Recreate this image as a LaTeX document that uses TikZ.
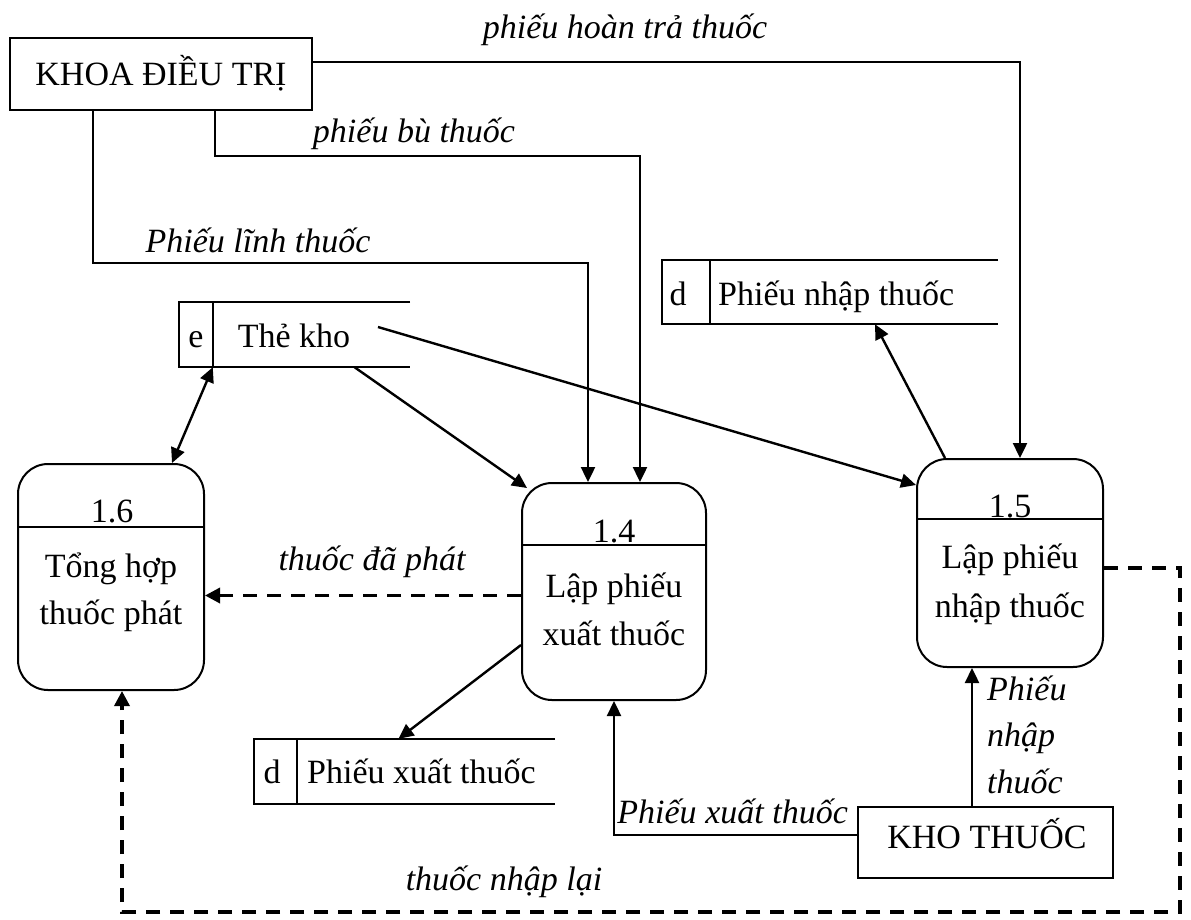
\documentclass[tikz,border=0pt]{standalone}
\usepackage{fontspec}
\setmainfont{Liberation Serif}
\usetikzlibrary{arrows.meta,calc}

\begin{document}
\begin{tikzpicture}[x=1pt,y=-1pt,
  every node/.style={font=\fontsize{34}{40}\selectfont, inner sep=0pt},
  tip/.style={-{Triangle[length=15pt,width=14pt]}},
  flow/.style={line width=2.4pt, tip},
  twoway/.style={line width=2.4pt, {Triangle[length=15pt,width=14pt]}-{Triangle[length=15pt,width=14pt]}},
  dashflow/.style={line width=3.4pt, dash pattern=on 14pt off 10pt, -{Triangle[length=15pt,width=15pt]}},
  edge/.style={line width=2pt},
  entity/.style={draw, edge, minimum width=#1, minimum height=72pt},
  proc/.style={draw, edge, rounded corners=30pt, minimum width=186pt},
  storebox/.style={minimum height=65pt},
  lbl/.style={font=\fontsize{34}{40}\selectfont\itshape, anchor=base},
  txt/.style={anchor=base}
]
\useasboundingbox (0,0) rectangle (1191,919);

% external entities
\node[entity=302pt] (kdt) at (161,74) {};
\node[txt] at (161,85) {KHOA ĐIỀU TRỊ};
\node[entity=255pt, minimum height=71pt] (kt) at (985.5,842.5) {};
\node[txt] at (987,848) {KHO THUỐC};

% processes
\node[proc, minimum height=226pt] (p16) at (111,577) {};
\draw[edge] ([yshift=-64pt]p16.north west) -- ([yshift=-64pt]p16.north east);
\node[txt] at (112,522) {1.6};
\node[txt] at (111,577) {Tổng hợp};
\node[txt] at (111,624) {thuốc phát};

\node[proc, minimum width=184pt, minimum height=217pt] (p14) at (614,591.5) {};
\draw[edge] ([yshift=-63pt]p14.north west) -- ([yshift=-63pt]p14.north east);
\node[txt] at (614,542) {1.4};
\node[txt] at (614,597) {Lập phiếu};
\node[txt] at (614,645) {xuất thuốc};

\node[proc, minimum height=208pt] (p15) at (1010,563) {};
\draw[edge] ([yshift=-61pt]p15.north west) -- ([yshift=-61pt]p15.north east);
\node[txt] at (1010,517) {1.5};
\node[txt] at (1010,568) {Lập phiếu};
\node[txt] at (1010,617) {nhập thuốc};

% data stores (open on the right)
\node[storebox, minimum width=231pt] (tk) at (294.5,334.5) {};
\draw[edge] (tk.north east) -- (tk.north west) -- (tk.south west) -- (tk.south east);
\draw[edge] ([xshift=34pt]tk.north west) -- ([xshift=34pt]tk.south west);
\node[txt] at (196,347) {e};
\node[txt] at (294,347) {Thẻ kho};

\node[storebox, minimum width=336pt, minimum height=64pt] (pn) at (830,292) {};
\draw[edge] (pn.north east) -- (pn.north west) -- (pn.south west) -- (pn.south east);
\draw[edge] ([xshift=48pt]pn.north west) -- ([xshift=48pt]pn.south west);
\node[txt] at (678,305) {d};
\node[txt, anchor=base west] at (718,305) {Phiếu nhập thuốc};

\node[storebox, minimum width=301pt] (px) at (404.5,771.5) {};
\draw[edge] (px.north east) -- (px.north west) -- (px.south west) -- (px.south east);
\draw[edge] ([xshift=43pt]px.north west) -- ([xshift=43pt]px.south west);
\node[txt] at (272,783) {d};
\node[txt, anchor=base west] at (307,783) {Phiếu xuất thuốc};

% flows from KHOA ĐIỀU TRỊ
\draw[flow] ([yshift=12pt]kdt.east) -| ([xshift=10pt]p15.north);
\draw[flow] ([xshift=54pt]kdt.south) -- ++(0,45) -| ([xshift=26pt]p14.north);
\draw[flow] ([xshift=-68pt]kdt.south) -- ++(0,152) -| ([xshift=-26pt]p14.north);
\node[lbl] at (625,38) {phiếu hoàn trả thuốc};
\node[lbl] at (414,142) {phiếu bù thuốc};
\node[lbl] at (258,252) {Phiếu lĩnh thuốc};

% flows around Thẻ kho
\draw[flow] ([xshift=60pt]tk.south) -- ([shift={(6pt,-6pt)}]p14.north west);
\draw[flow] ([shift={(83.5pt,7.5pt)}]tk.center) -- ([yshift=78pt]p15.west);
\draw[twoway] ([xshift=34pt]tk.south west) -- ([xshift=61pt]p16.north);

% flows to the stores
\draw[flow] ([xshift=-65pt]p15.north) -- ([xshift=45pt]pn.south);
\draw[flow] ([yshift=-53.5pt]p14.west) -- ([xshift=-6pt]px.north);

% dashed flows into 1.6
\draw[dashflow] ([yshift=-4pt]p14.west) coordinate (d1) -- (d1 -| p16.east);
\node[lbl] at (372,570) {thuốc đã phát};
\draw[dashflow] ([yshift=-5pt]p15.east) -- ++(76,0) -- ++(0,344) -| ([xshift=11pt]p16.south);
\node[lbl] at (504,890) {thuốc nhập lại};

% flows from KHO THUỐC
\draw[flow] ([yshift=7.5pt]kt.west) -| (p14.south);
\node[lbl, anchor=base east] at (848,823) {Phiếu xuất thuốc};
\draw[flow] ([xshift=-13.5pt]kt.north) coordinate (k1) -- (k1 |- p15.south);
\node[lbl, anchor=base west] at (987,700) {Phiếu};
\node[lbl, anchor=base west] at (987,746) {nhập};
\node[lbl, anchor=base west] at (987,793) {thuốc};

\end{tikzpicture}
\end{document}
